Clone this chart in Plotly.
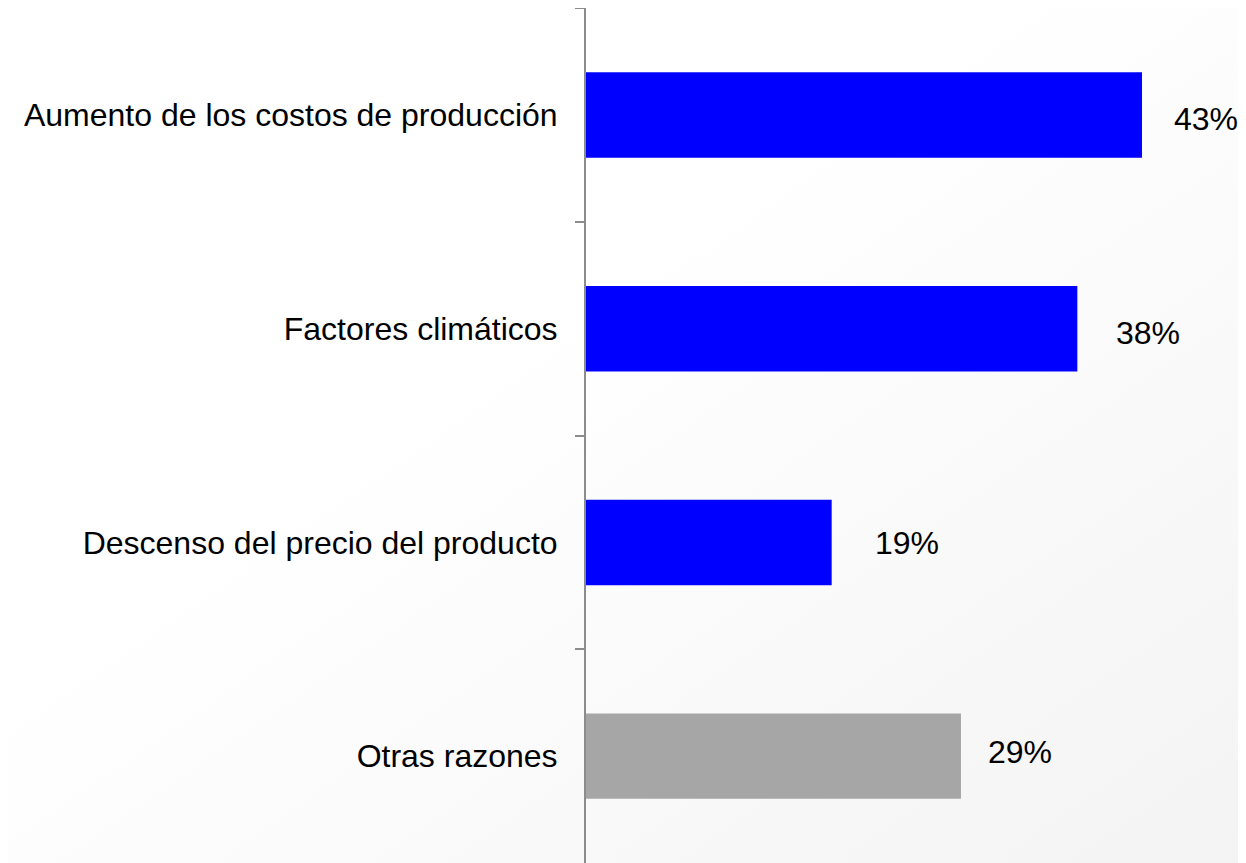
import base64
import plotly.graph_objects as go

categories = ["Aumento de los costos de producción", "Factores climáticos",
              "Descenso del precio del producto", "Otras razones"]
values = [43, 38, 19, 29]
labels = ["43%", "38%", "19%", "29%"]
colors = ["#0000FF", "#0000FF", "#0000FF", "#A6A6A6"]

# label offsets in pixels (style only)
label_dx = [30, 37, 41, 25]
label_dy = [-4, -4, -1, 4]

W, H = 1246, 863
L, R, T, B = 578, 22, 0, 8
pw = W - L - R
ph = H - T - B

svg = ('<svg xmlns="http://www.w3.org/2000/svg" width="1246" height="863">'
       '<defs><linearGradient id="g" x1="0" y1="0" x2="1" y2="1">'
       '<stop offset="0.4" stop-color="#ffffff"/><stop offset="1" stop-color="#f3f3f3"/>'
       '</linearGradient></defs><rect width="1246" height="863" fill="url(#g)"/></svg>')
uri = "data:image/svg+xml;base64," + base64.b64encode(svg.encode()).decode()

fig = go.Figure(go.Bar(
    x=values, y=categories, orientation="h",
    marker=dict(color=colors, line=dict(width=0)),
    hoverinfo="skip",
))

FONT = "Liberation Sans, Arial, sans-serif"
for c, v, t, dx, dy in zip(categories, values, labels, label_dx, label_dy):
    fig.add_annotation(x=v, y=c, text=t, showarrow=False, xanchor="left",
                       xshift=dx, yshift=dy,
                       font=dict(size=32, color="#000000", family=FONT))

fig.update_layout(
    width=W, height=H,
    margin=dict(l=L, r=R, t=T, b=B),
    paper_bgcolor="white", plot_bgcolor="rgba(0,0,0,0)",
    bargap=0.6, showlegend=False,
    font=dict(family=FONT, size=32, color="#000000"),
    images=[dict(source=uri, xref="paper", yref="paper",
                 x=-L / pw, y=1 + T / ph, sizex=W / pw, sizey=H / ph,
                 xanchor="left", yanchor="top", sizing="stretch", layer="below")],
)
fig.update_xaxes(range=[0, 646 / 12.93], visible=False, showgrid=False, zeroline=False)
fig.update_yaxes(categoryorder="array", categoryarray=categories, autorange="reversed",
                 showline=True, linecolor="#8c8c8c", linewidth=2,
                 ticks="outside", tickson="boundaries", ticklen=9, tickcolor="#8c8c8c",
                 tickwidth=2, showgrid=False, ticklabelstandoff=20,
                 tickfont=dict(size=32))

fig.write_html("out.html")
